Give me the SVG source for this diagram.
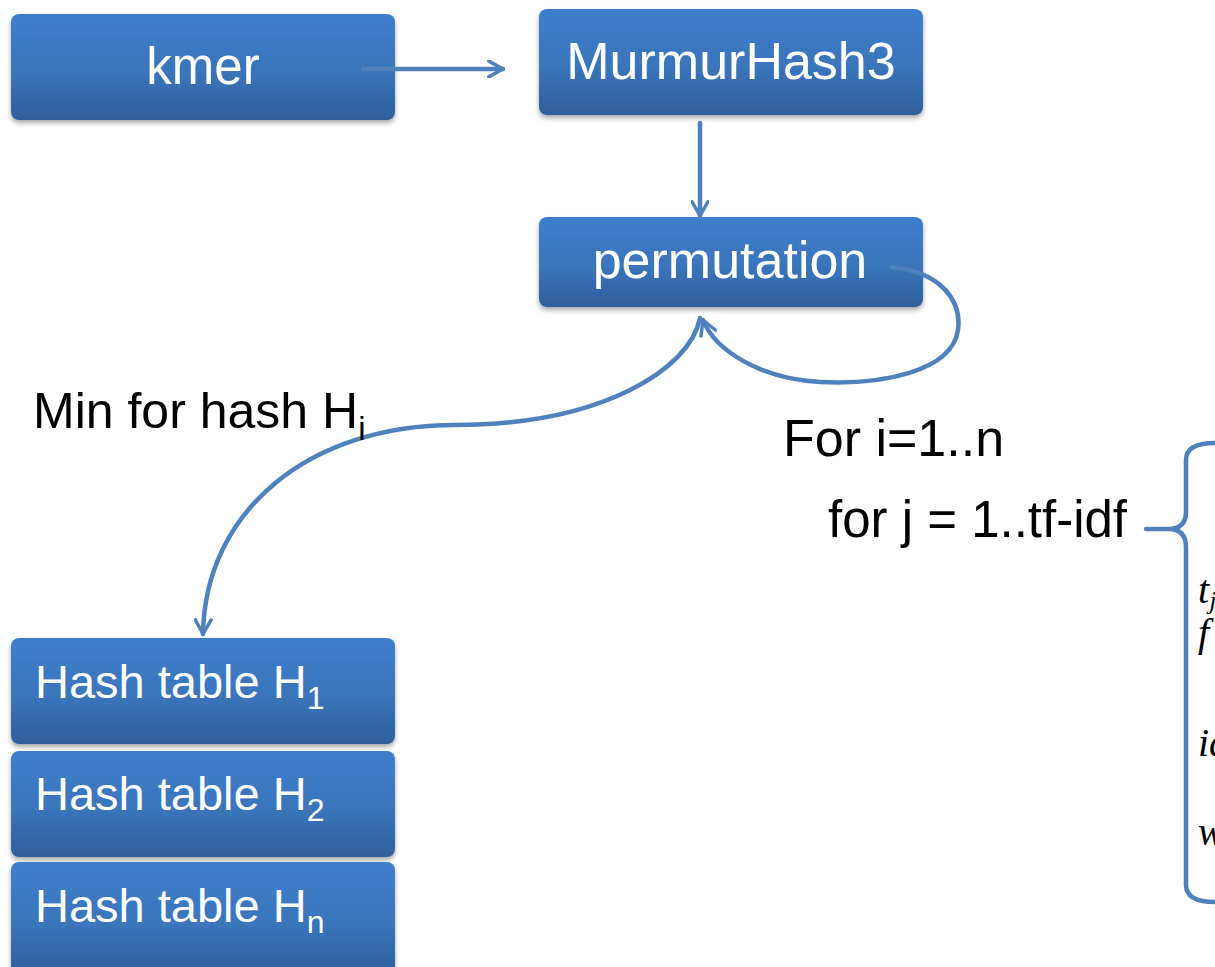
<svg xmlns="http://www.w3.org/2000/svg" width="1215" height="967" viewBox="0 0 1215 967">
<style>
.box{fill:url(#g);filter:url(#sh)}
.lbl{font-family:"Liberation Sans",Arial,sans-serif;fill:#fff}
.txt{font-family:"Liberation Sans",Arial,sans-serif;fill:#000}
.math{font-family:"Liberation Serif","DejaVu Serif",serif;font-style:italic;fill:#000;font-size:40px}
.con{fill:none;stroke:#4f81bd;stroke-width:4.5;stroke-linecap:round}
</style>
<defs>
<linearGradient id="g" x1="0" y1="0" x2="0" y2="1">
<stop offset="0" stop-color="#3d7fcd"/>
<stop offset="0.55" stop-color="#3a74ba"/>
<stop offset="1" stop-color="#2f5e9d"/>
</linearGradient>
<filter id="sh" x="-10%" y="-10%" width="120%" height="130%">
<feDropShadow dx="0" dy="3" stdDeviation="2.5" flood-color="#000" flood-opacity="0.35"/>
</filter>
<marker id="arr" viewBox="0 0 12 12" refX="10" refY="6" markerWidth="4.2" markerHeight="4.2" orient="auto" markerUnits="strokeWidth">
<path d="M1,1 L10,6 L1,11" fill="none" stroke="#4f81bd" stroke-width="2.2" stroke-linecap="round" stroke-linejoin="round"/>
</marker>
</defs>
<rect width="1215" height="967" fill="#fff"/>
<g id="kmer">
<rect class="box" x="11" y="14" width="384" height="106" rx="8"/>
<text class="lbl" x="203" y="84" font-size="51" text-anchor="middle">kmer</text>
</g>
<g id="murmur">
<rect class="box" x="539" y="9" width="384" height="106" rx="8"/>
<text class="lbl" x="731" y="79" font-size="52" text-anchor="middle">MurmurHash3</text>
</g>
<g id="permutation">
<rect class="box" x="539" y="217" width="384" height="90" rx="8"/>
<text class="lbl" x="730" y="278" font-size="52" text-anchor="middle">permutation</text>
</g>
<g id="h1">
<rect class="box" x="11" y="638" width="384" height="106" rx="8"/>
<text class="lbl" x="35" y="698" font-size="47">Hash table H<tspan font-size="32" dy="11">1</tspan></text>
</g>
<g id="h2">
<rect class="box" x="11" y="751" width="384" height="106" rx="8"/>
<text class="lbl" x="35" y="810" font-size="47">Hash table H<tspan font-size="32" dy="11">2</tspan></text>
</g>
<g id="hn">
<rect class="box" x="11" y="862" width="384" height="115" rx="8"/>
<text class="lbl" x="35" y="922" font-size="47">Hash table H<tspan font-size="32" dy="11">n</tspan></text>
</g>
<g id="connectors">
<path class="con" d="M363,69 L503,69" marker-end="url(#arr)"/>
<path class="con" d="M700,123 L700,216" marker-end="url(#arr)"/>
<path class="con" d="M700,318 C690,370 600,425 455,425 C310,425 205,510 203,634" marker-end="url(#arr)"/>
<path class="con" d="M892,267 C940,272 962,300 958,330 C952,372 880,385 820,382 C760,379 715,350 703,320" marker-end="url(#arr)"/>
<path class="con" d="M1215,443 Q1186,443 1186,460 L1186,512 Q1186,529 1168,529 L1146,529 M1168,529 Q1186,529 1186,547 L1186,885 Q1186,902 1215,902"/>
</g>
<g id="labels">
<text class="txt" x="33" y="428" font-size="50">Min for hash H<tspan font-size="33" dy="12">i</tspan></text>
<text class="txt" x="783" y="456" font-size="52">For i=1..n</text>
<text class="txt" x="828" y="537" font-size="51">for j = 1..tf-idf</text>
<text class="math" x="1198" y="603">t<tspan font-size="26" dy="6">j</tspan></text>
<text class="math" x="1198" y="646">f</text>
<text class="math" x="1198" y="756">id</text>
<text class="math" x="1198" y="845">w</text>
</g>
</svg>
